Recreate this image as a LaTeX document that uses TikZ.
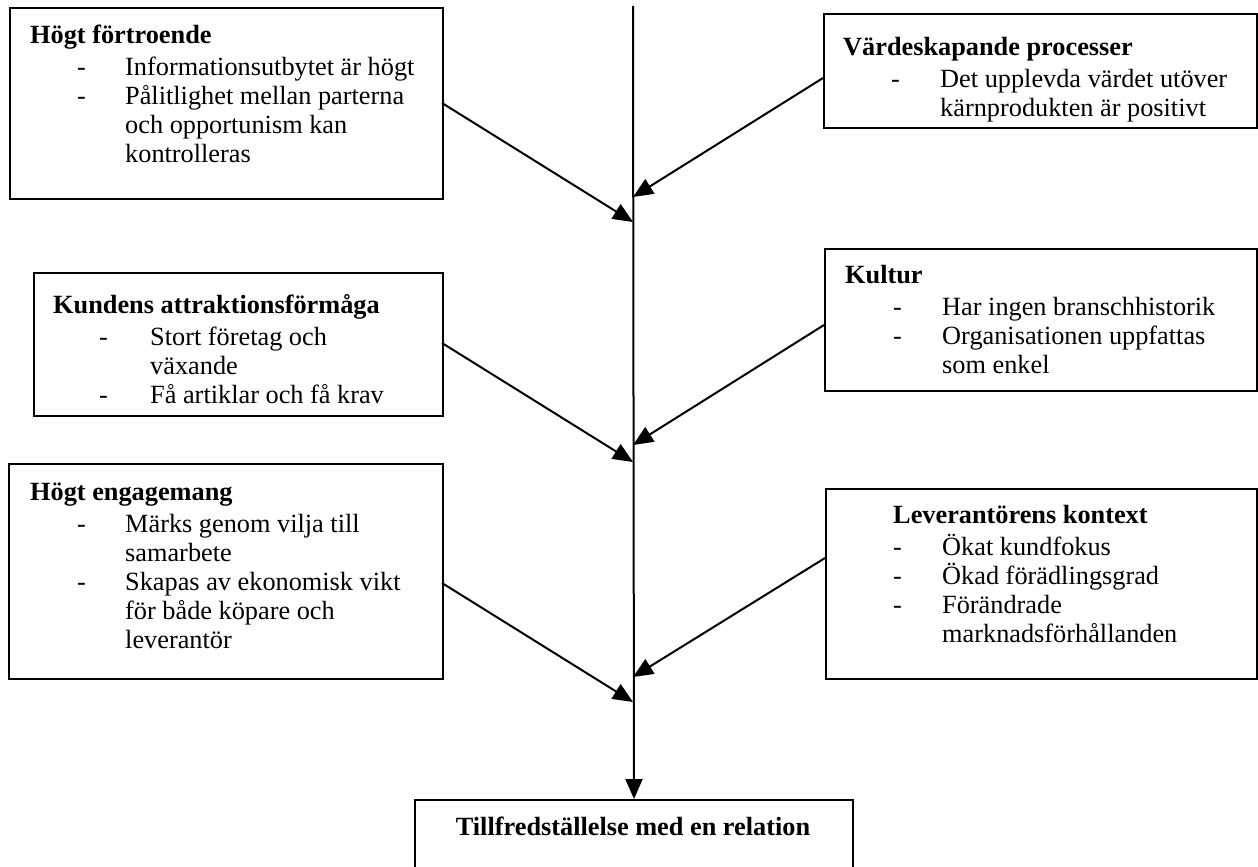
\documentclass[tikz,border=0pt]{standalone}
\usepackage{fontspec}
\setmainfont{Liberation Serif}
\usetikzlibrary{arrows.meta}
\newlength\bxdash
\newlength\bxtext
\newcommand\bxhdr[1]{\hbox{\bfseries #1}\vskip3pt}
\newcommand\bxitem[1]{\hbox{\hspace*{\bxdash}\rlap{-}\hspace*{\dimexpr\bxtext-\bxdash\relax}#1}}
\newcommand\bxcont[1]{\hbox{\hspace*{\bxtext}#1}}
\tikzset{
  box/.style={draw, line width=2pt, inner sep=0pt, anchor=north west},
  txt/.style={inner sep=0pt, anchor=base west, font=\fontsize{26.3}{29}\selectfont},
  conn/.style={line width=2pt, -{Triangle[length=20pt,width=17pt]}},
}
\begin{document}
\begin{tikzpicture}[x=1pt,y=-1pt]
\clip (0,0) rectangle (1258,867);
% boxes
\node[box, minimum width=433pt, minimum height=191pt] (b1) at (9,7) {};
\node[box, minimum width=433pt, minimum height=114pt] (b2) at (823,13) {};
\node[box, minimum width=409pt, minimum height=143pt] (b3) at (33,272) {};
\node[box, minimum width=432pt, minimum height=142pt] (b4) at (824,248) {};
\node[box, minimum width=434pt, minimum height=215pt] (b5) at (8,463) {};
\node[box, minimum width=431pt, minimum height=190pt] (b6) at (825,488) {};
\node[box, minimum width=438pt, minimum height=100pt] (b7) at (414,799) {};
% texts
\node[txt] (t1) at (30,44) {\bxdash=47pt\bxtext=95pt\vtop{\lineskiplimit=-100pt
  \bxhdr{Högt förtroende}
  \bxitem{Informationsutbytet är högt}
  \bxitem{Pålitlighet mellan parterna}
  \bxcont{och opportunism kan}
  \bxcont{kontrolleras}}};
\node[txt] (t2) at (843,56) {\bxdash=48pt\bxtext=97pt\vtop{\lineskiplimit=-100pt
  \bxhdr{Värdeskapande processer}
  \bxitem{Det upplevda värdet utöver}
  \bxcont{kärnprodukten är positivt}}};
\node[txt] (t3) at (53,313) {\bxdash=46pt\bxtext=97pt\vtop{\lineskiplimit=-100pt
  \bxhdr{Kundens attraktionsförmåga}
  \bxitem{Stort företag och}
  \bxcont{växande}
  \bxitem{Få artiklar och få krav}}};
\node[txt] (t4) at (845,283) {\bxdash=48pt\bxtext=97pt\vtop{\lineskiplimit=-100pt
  \bxhdr{Kultur}
  \bxitem{Har ingen branschhistorik}
  \bxitem{Organisationen uppfattas}
  \bxcont{som enkel}}};
\node[txt] (t5) at (30,500) {\bxdash=47pt\bxtext=95pt\vtop{\lineskiplimit=-100pt
  \bxhdr{Högt engagemang}
  \bxitem{Märks genom vilja till}
  \bxcont{samarbete}
  \bxitem{Skapas av ekonomisk vikt}
  \bxcont{för både köpare och}
  \bxcont{leverantör}}};
\node[txt] (t6) at (893,523) {\bxdash=0pt\bxtext=49pt\vtop{\lineskiplimit=-100pt
  \bxhdr{Leverantörens kontext}
  \bxitem{Ökat kundfokus}
  \bxitem{Ökad förädlingsgrad}
  \bxitem{Förändrade}
  \bxcont{marknadsförhållanden}}};
\node[inner sep=0pt, anchor=base, font=\fontsize{26.3}{29}\selectfont\bfseries] (t7) at (633,835) {Tillfredställelse med en relation};
% spine
\coordinate (top) at (633,6);
\draw[conn] (top) -- (b7.north);
% connector points
\coordinate (s1) at (442,103);
\coordinate (e1) at (633,222);
\coordinate (s2) at (823,78);
\coordinate (e2) at (633,197);
\coordinate (s3) at (442,343);
\coordinate (e3) at (633,462);
\coordinate (s4) at (824,325);
\coordinate (e4) at (633,445);
\coordinate (s5) at (442,583);
\coordinate (e5) at (633,702);
\coordinate (s6) at (825,558);
\coordinate (e6) at (633,677);
\draw[conn] (s1) -- (e1);
\draw[conn] (s2) -- (e2);
\draw[conn] (s3) -- (e3);
\draw[conn] (s4) -- (e4);
\draw[conn] (s5) -- (e5);
\draw[conn] (s6) -- (e6);
\end{tikzpicture}
\end{document}
